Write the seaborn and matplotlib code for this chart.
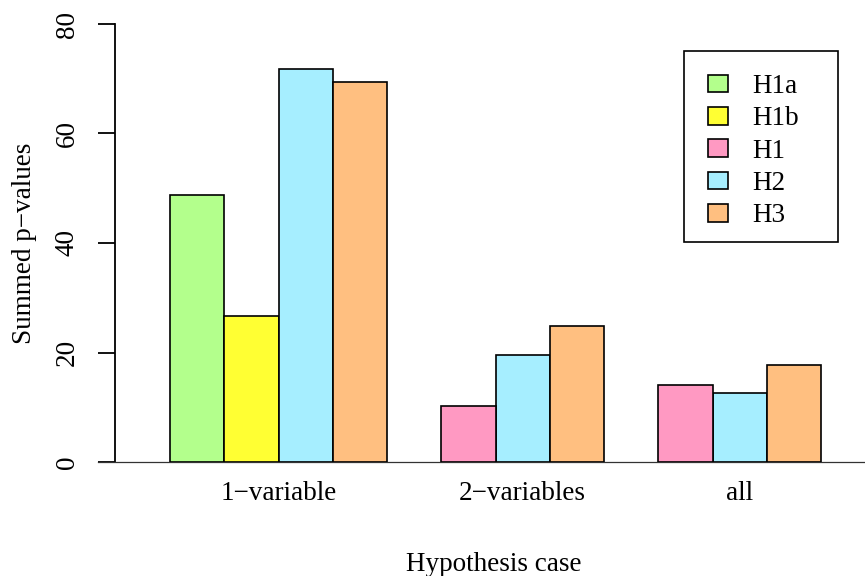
import matplotlib
matplotlib.use("Agg")
import matplotlib.pyplot as plt
from matplotlib.patches import Patch, Rectangle
import seaborn as sns
import pandas as pd

# ---- data ----
cases = ["1−variable", "2−variables", "all"]
series_1var = ["H1a", "H1b", "H2", "H3"]
values_1var = [48.8, 26.7, 71.8, 69.4]
series_2var = ["H1", "H2", "H3"]
values_2var = [10.2, 19.5, 24.8]
series_all = ["H1", "H2", "H3"]
values_all = [14.1, 12.6, 17.7]
legend_order = ["H1a", "H1b", "H1", "H2", "H3"]
colors = {"H1a": "#B3FF8C", "H1b": "#FFFF33", "H1": "#FF99C2",
          "H2": "#A6EEFF", "H3": "#FFBF80"}
y_ticks = [0, 20, 40, 60, 80]

# build positions (R barplot beside=TRUE, space between groups = 1 bar)
rows = []
start = 0
centers = []
for series, vals in [(series_1var, values_1var), (series_2var, values_2var),
                     (series_all, values_all)]:
    for i, (s, v) in enumerate(zip(series, vals)):
        rows.append({"pos": start + i + 0.5, "value": v, "series": s})
    centers.append(start + len(series) / 2)
    start += len(series) + 1
df = pd.DataFrame(rows)

sns.set_style("white")
plt.rcParams["font.family"] = ["Liberation Serif", "DejaVu Serif"]
FS = 19.5
plt.rcParams["font.size"] = FS
plt.rcParams["text.color"] = "black"
plt.rcParams["axes.labelcolor"] = "black"
plt.rcParams["xtick.color"] = "black"
plt.rcParams["ytick.color"] = "black"

fig = plt.figure(figsize=(8.65, 5.76), dpi=100)
W, H = 865, 576
ax = fig.add_axes([98 / W, (H - 462) / H, (865 - 98) / W, 438 / H])

sns.barplot(data=df, x="pos", y="value", hue="series", palette=colors,
            native_scale=True, dodge=False, width=1.0, errorbar=None,
            saturation=1, edgecolor="black", linewidth=1.2, legend=False,
            ax=ax, zorder=3)

unit = 54.25
ax.set_xlim((98 - 170) / unit, (865 - 170) / unit)
ax.set_ylim(0, 80)

# axes styling like R base graphics
for s in ["top", "right"]:
    ax.spines[s].set_visible(False)
ax.spines["left"].set_position(("data", (115 - 170) / unit))
ax.spines["left"].set_bounds(0, 80)
ax.spines["left"].set_linewidth(1.3)
ax.spines["left"].set_color("black")
ax.spines["bottom"].set_linewidth(0.9)
ax.spines["bottom"].set_color("#333333")

ax.set_yticks(y_ticks)
ax.set_yticklabels([str(t) for t in y_ticks], rotation=90, va="center")
ax.tick_params(axis="y", length=12.2, width=1.3, pad=13, color="black",
               labelcolor="black", labelsize=FS, left=True)
ax.set_xticks(centers)
ax.set_xticklabels(cases)
ax.tick_params(axis="x", length=0, pad=14, labelsize=FS, labelcolor="black")

ax.set_xlabel("Hypothesis case", fontsize=FS, color="black")
ax.xaxis.set_label_coords((494 - 98) / 767, (462 - 552) / 438)
ax.set_ylabel("Summed p−values", fontsize=FS, color="black")
ax.yaxis.set_label_coords((37 - 98) / 767, 0.5)

# legend frame (R style box) and entries
frame = Rectangle((684 / W, 1 - 242 / H), (838 - 684) / W, (242 - 51) / H,
                  transform=fig.transFigure, facecolor="white",
                  edgecolor="black", linewidth=1.2, zorder=5, clip_on=False)
ax.add_patch(frame)
handles = [Patch(facecolor=colors[k], edgecolor="black", linewidth=1.2, label=k)
           for k in legend_order]
leg = ax.legend(handles=handles, loc="upper left",
                bbox_to_anchor=(708 / W, 1 - 74 / H), bbox_transform=fig.transFigure,
                borderaxespad=0, frameon=False, fontsize=FS,
                handlelength=0.74, handleheight=0.63, handletextpad=0.89,
                borderpad=0, labelspacing=0.27)
leg.set_zorder(6)
for t in leg.get_texts():
    t.set_color("black")

fig.savefig("out.png", dpi=100)
